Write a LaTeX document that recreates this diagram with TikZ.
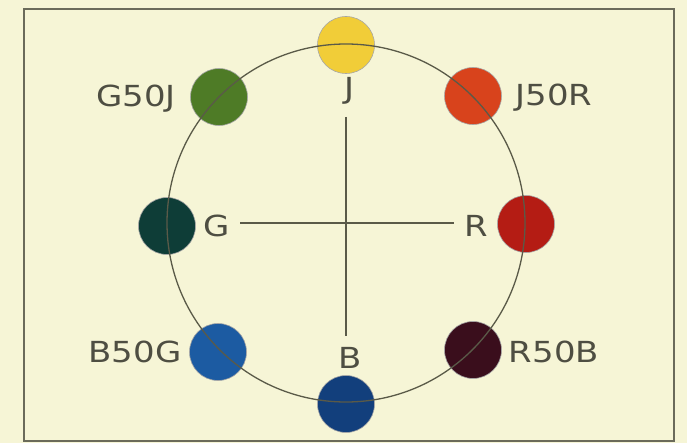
\documentclass[tikz,border=0pt]{standalone}
\usepackage{fontspec}
\setmainfont{DejaVu Sans}
\newfontfamily\labfont[FakeStretch=1.17]{DejaVu Sans}
\definecolor{paper}{HTML}{F6F5D6}
\definecolor{ink}{HTML}{5A5A48}
\definecolor{txt}{HTML}{4E4E42}
\definecolor{cJ}{HTML}{F1CD38}
\definecolor{cJR}{HTML}{D8431C}
\definecolor{cR}{HTML}{B41C14}
\definecolor{cRB}{HTML}{3A0E1C}
\definecolor{cB}{HTML}{123F7C}
\definecolor{cBG}{HTML}{1C5BA2}
\definecolor{cG}{HTML}{0E3D37}
\definecolor{cGJ}{HTML}{4E7B26}
\begin{document}
\begin{tikzpicture}[x=1pt,y=-1pt,
  dot/.style={circle,minimum size=57pt,inner sep=0pt,draw=black!35,line width=0.6pt},
  lab/.style={text=txt,font=\labfont\fontsize{29}{29}\selectfont,inner sep=0pt,anchor=center},
  ring/.style={draw=ink,line width=1.3pt},
  cross/.style={draw=ink,line width=1.3pt},
  frame/.style={draw=ink!90,line width=2pt}]
\fill[paper] (0,0) rectangle (687,443);
\useasboundingbox (0,0) rectangle (687,443);
\draw[frame] (24,9) rectangle (674,441);
% dots
\node[dot,fill=cJ]  (dJ)  at (346,45) {};
\node[dot,fill=cJR] (dJR) at (473,96) {};
\node[dot,fill=cR]  (dR)  at (526,224) {};
\node[dot,fill=cRB] (dRB) at (473,350) {};
\node[dot,fill=cB]  (dB)  at (346,404) {};
\node[dot,fill=cBG] (dBG) at (218,352) {};
\node[dot,fill=cG]  (dG)  at (167,226) {};
\node[dot,fill=cGJ] (dGJ) at (219,97) {};
% ring
\node[circle,ring,minimum size=358pt,inner sep=0pt] (ring) at (346,223) {};
% labels
\node[lab] (lGJ) at (136,99) {G50J};
\node[lab] (lJR) at (554,98) {J50R};
\node[lab] (lBG) at (135,352) {B50G};
\node[lab] (lRB) at (554,352) {R50B};
\node[lab] (lG) at (217,226) {G};
\node[lab] (lR) at (476,226) {R};
\node[lab] (lJ) at (349,91) {J};
\node[lab] (lB) at (350,358) {B};
% cross
\coordinate (vt) at (346,117);
\coordinate (vb) at (346,336);
\coordinate (hl) at (240,223);
\coordinate (hr) at (454,223);
\draw[cross] (vt) -- (vb);
\draw[cross] (hl) -- (hr);
\end{tikzpicture}
\end{document}
